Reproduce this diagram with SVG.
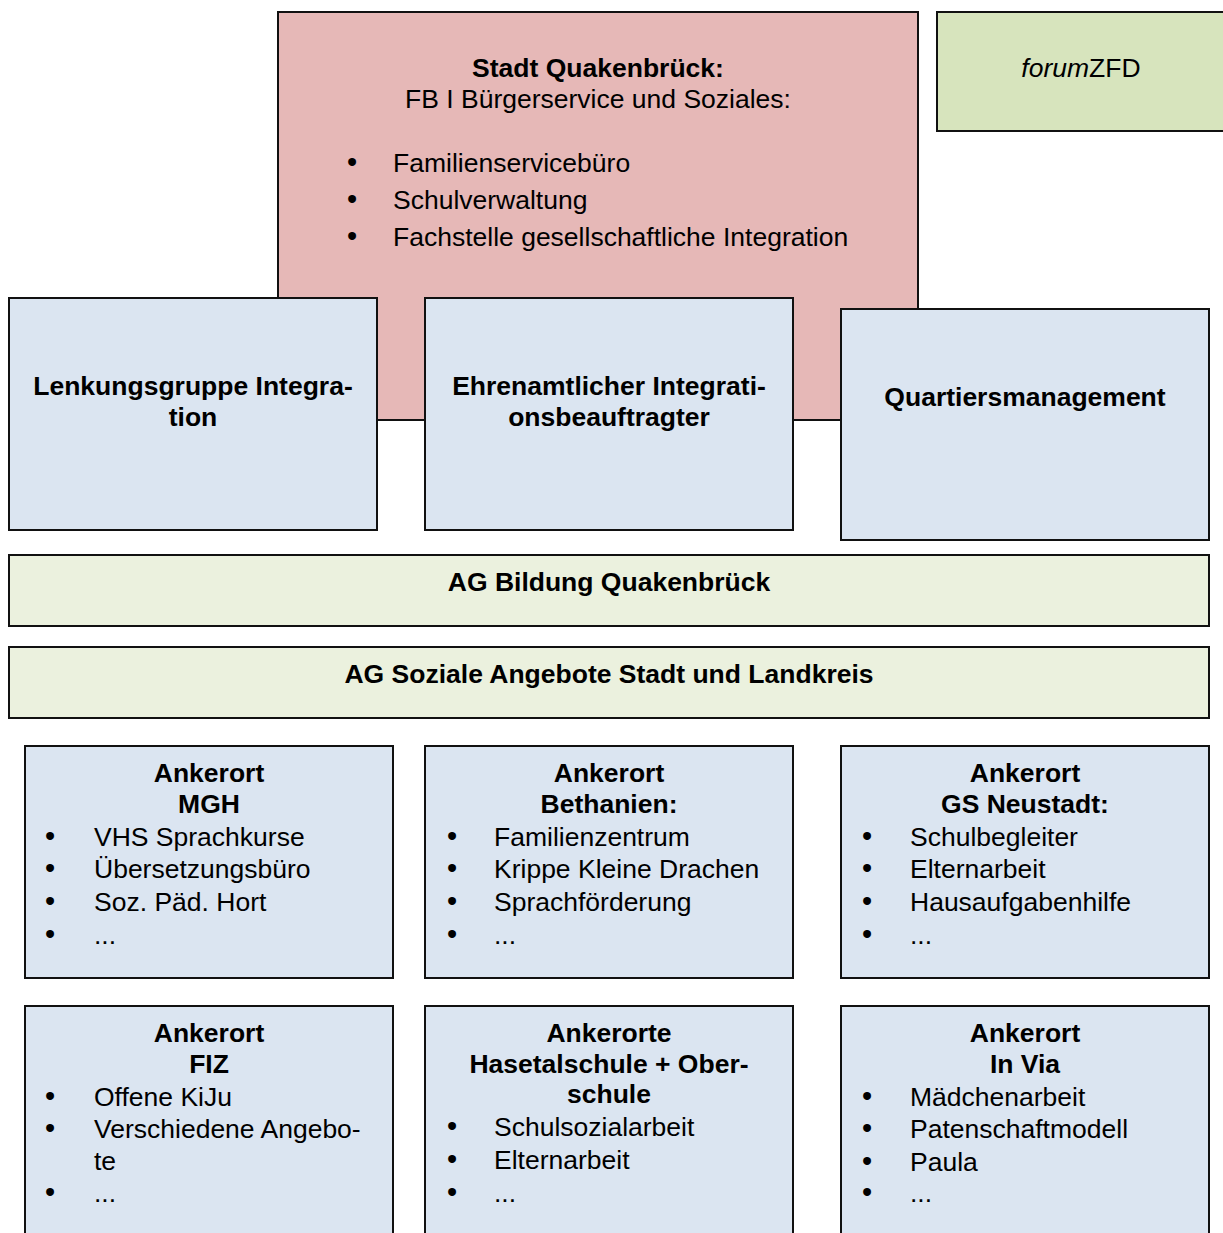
<svg xmlns="http://www.w3.org/2000/svg" width="1223" height="1233" viewBox="0 0 1223 1233">
<style>
.box{stroke:#111;stroke-width:2}
.red{fill:#E6B8B7}
.lg{fill:#D7E4BD}
.bl{fill:#DBE5F1}
.ag{fill:#EBF1DE}
text{font-family:"Liberation Sans",Arial,sans-serif;font-size:26.5px;fill:#000}
.b{font-weight:bold}
.c{text-anchor:middle}
.u{font-size:29px}
</style>
<rect width="1223" height="1233" fill="#fff"/>
<g id="stadt">
<rect class="box red" x="278" y="12" width="640" height="408"/>
<text class="b c" x="598" y="77">Stadt Quakenbrück:</text>
<text class="c" x="598" y="108">FB I Bürgerservice und Soziales:</text>
<text y="172"><tspan class="u" x="347">•</tspan><tspan x="393">Familienservicebüro</tspan></text>
<text y="209"><tspan class="u" x="347">•</tspan><tspan x="393">Schulverwaltung</tspan></text>
<text y="246"><tspan class="u" x="347">•</tspan><tspan x="393">Fachstelle gesellschaftliche Integration</tspan></text>
</g>
<g id="forumzfd">
<rect class="box lg" x="937" y="12" width="290" height="119"/>
<text class="c" x="1081" y="77"><tspan font-style="italic">forum</tspan>ZFD</text>
</g>
<g id="lenkung">
<rect class="box bl" x="9" y="298" width="368" height="232"/>
<text class="b c" x="193" y="395">Lenkungsgruppe Integra-</text>
<text class="b c" x="193" y="426">tion</text>
</g>
<g id="ehrenamt">
<rect class="box bl" x="425" y="298" width="368" height="232"/>
<text class="b c" x="609" y="395">Ehrenamtlicher Integrati-</text>
<text class="b c" x="609" y="426">onsbeauftragter</text>
</g>
<g id="quartier">
<rect class="box bl" x="841" y="309" width="368" height="231"/>
<text class="b c" x="1025" y="406">Quartiersmanagement</text>
</g>
<g id="ag-bildung">
<rect class="box ag" x="9" y="555" width="1200" height="71"/>
<text class="b c" x="609" y="591">AG Bildung Quakenbrück</text>
</g>
<g id="ag-soziale">
<rect class="box ag" x="9" y="647" width="1200" height="71"/>
<text class="b c" x="609" y="683">AG Soziale Angebote Stadt und Landkreis</text>
</g>
<g id="mgh">
<rect class="box bl" x="25" y="746" width="368" height="232"/>
<text class="b c" x="209" y="782">Ankerort</text>
<text class="b c" x="209" y="813">MGH</text>
<text y="846"><tspan class="u" x="45">•</tspan><tspan x="94">VHS Sprachkurse</tspan></text>
<text y="878"><tspan class="u" x="45">•</tspan><tspan x="94">Übersetzungsbüro</tspan></text>
<text y="911"><tspan class="u" x="45">•</tspan><tspan x="94">Soz. Päd. Hort</tspan></text>
<text y="944"><tspan class="u" x="45">•</tspan><tspan x="94">...</tspan></text>
</g>
<g id="bethanien">
<rect class="box bl" x="425" y="746" width="368" height="232"/>
<text class="b c" x="609" y="782">Ankerort</text>
<text class="b c" x="609" y="813">Bethanien:</text>
<text y="846"><tspan class="u" x="447">•</tspan><tspan x="494">Familienzentrum</tspan></text>
<text y="878"><tspan class="u" x="447">•</tspan><tspan x="494">Krippe Kleine Drachen</tspan></text>
<text y="911"><tspan class="u" x="447">•</tspan><tspan x="494">Sprachförderung</tspan></text>
<text y="944"><tspan class="u" x="447">•</tspan><tspan x="494">...</tspan></text>
</g>
<g id="neustadt">
<rect class="box bl" x="841" y="746" width="368" height="232"/>
<text class="b c" x="1025" y="782">Ankerort</text>
<text class="b c" x="1025" y="813">GS Neustadt:</text>
<text y="846"><tspan class="u" x="862">•</tspan><tspan x="910">Schulbegleiter</tspan></text>
<text y="878"><tspan class="u" x="862">•</tspan><tspan x="910">Elternarbeit</tspan></text>
<text y="911"><tspan class="u" x="862">•</tspan><tspan x="910">Hausaufgabenhilfe</tspan></text>
<text y="944"><tspan class="u" x="862">•</tspan><tspan x="910">...</tspan></text>
</g>
<g id="fiz">
<rect class="box bl" x="25" y="1006" width="368" height="240"/>
<text class="b c" x="209" y="1042">Ankerort</text>
<text class="b c" x="209" y="1073">FIZ</text>
<text y="1106"><tspan class="u" x="45">•</tspan><tspan x="94">Offene KiJu</tspan></text>
<text y="1138"><tspan class="u" x="45">•</tspan><tspan x="94">Verschiedene Angebo-</tspan></text>
<text x="94" y="1170">te</text>
<text y="1202"><tspan class="u" x="45">•</tspan><tspan x="94">...</tspan></text>
</g>
<g id="hasetal">
<rect class="box bl" x="425" y="1006" width="368" height="240"/>
<text class="b c" x="609" y="1042">Ankerorte</text>
<text class="b c" x="609" y="1073">Hasetalschule + Ober-</text>
<text class="b c" x="609" y="1103">schule</text>
<text y="1136"><tspan class="u" x="447">•</tspan><tspan x="494">Schulsozialarbeit</tspan></text>
<text y="1169"><tspan class="u" x="447">•</tspan><tspan x="494">Elternarbeit</tspan></text>
<text y="1202"><tspan class="u" x="447">•</tspan><tspan x="494">...</tspan></text>
</g>
<g id="invia">
<rect class="box bl" x="841" y="1006" width="368" height="240"/>
<text class="b c" x="1025" y="1042">Ankerort</text>
<text class="b c" x="1025" y="1073">In Via</text>
<text y="1106"><tspan class="u" x="862">•</tspan><tspan x="910">Mädchenarbeit</tspan></text>
<text y="1138"><tspan class="u" x="862">•</tspan><tspan x="910">Patenschaftmodell</tspan></text>
<text y="1171"><tspan class="u" x="862">•</tspan><tspan x="910">Paula</tspan></text>
<text y="1202"><tspan class="u" x="862">•</tspan><tspan x="910">...</tspan></text>
</g>
<g id="connectors"></g>
</svg>
